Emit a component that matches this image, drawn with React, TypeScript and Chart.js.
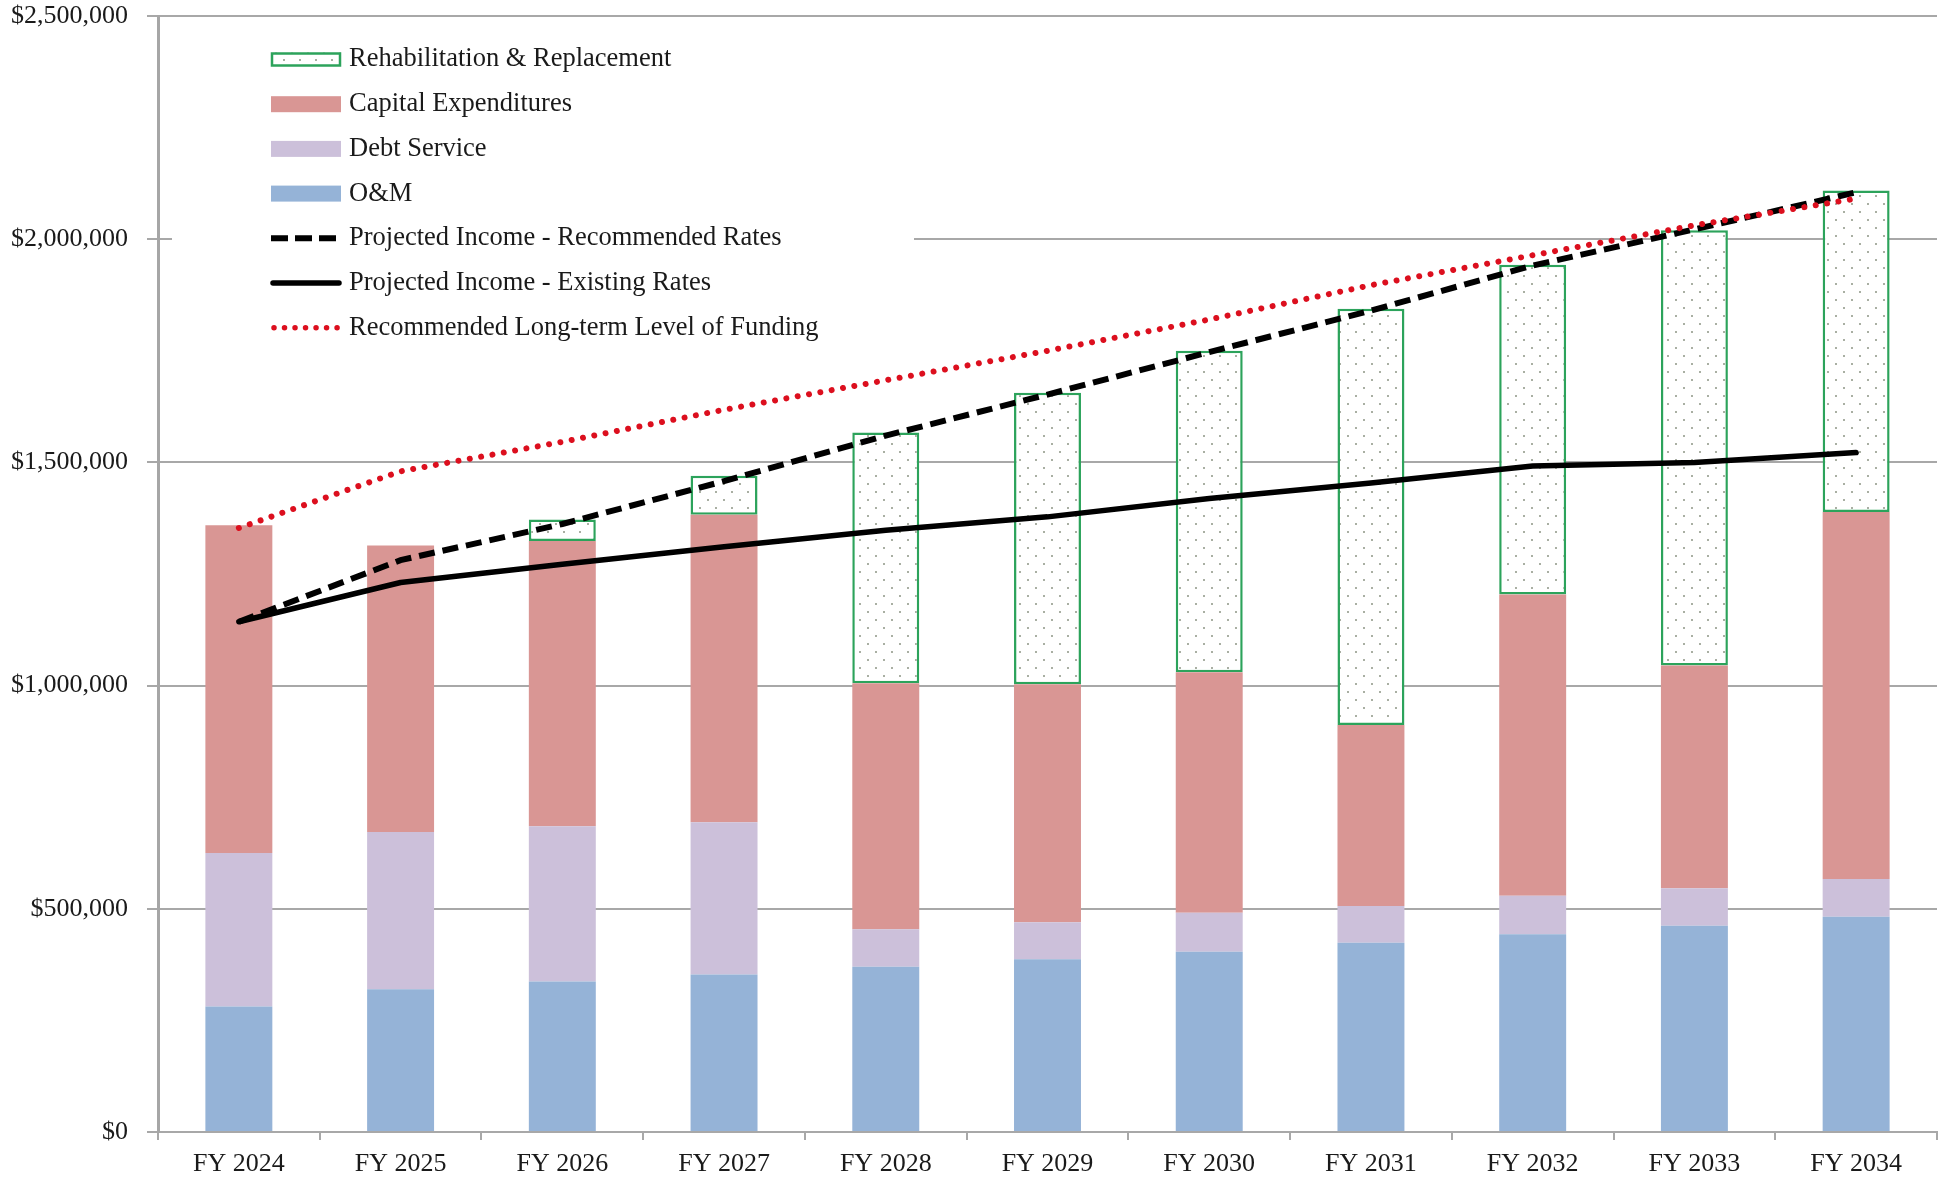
import React, { useEffect, useRef } from "react";
import { Chart, registerables } from "chart.js";

Chart.register(...registerables);

const categories = ["FY 2024", "FY 2025", "FY 2026", "FY 2027", "FY 2028", "FY 2029", "FY 2030", "FY 2031", "FY 2032", "FY 2033", "FY 2034"];

const omValues = [281000, 320000, 337000, 353000, 370000, 387000, 404000, 424000, 443000, 462000, 482000];
const debtServiceValues = [344000, 352000, 348000, 341000, 84000, 83000, 87000, 82000, 86000, 84000, 85000];
const capitalValues = [734000, 642000, 639000, 689000, 551000, 533000, 539000, 406000, 675000, 499000, 822000];
const rehabValues = [null, null, 48000, 87000, 562000, 653000, 720000, 932000, 739000, 975000, 720000];

const incomeRecommended = [1143000, 1281000, 1362000, 1458000, 1560000, 1652000, 1747000, 1840000, 1941000, 2022000, 2105000];
const incomeExisting = [1143000, 1231000, 1272000, 1311000, 1348000, 1378000, 1419000, 1454000, 1492000, 1500000, 1522000];
const longTermFunding = [1353000, 1480000, 1546000, 1618000, 1684000, 1750000, 1820000, 1897000, 1964000, 2031000, 2091000];

const yTicks = [0, 500000, 1000000, 1500000, 2000000, 2500000];

const FONT = "'Liberation Serif', 'Times New Roman', serif";
const TEXT = "#1a1a1a";
const GRID = "#A8A8A8";
const C_OM = "#95B3D7";
const C_DEBT = "#CCC0DA";
const C_CAP = "#D99694";
const C_RR_BORDER = "#2CA35B";
const C_RED = "#DC0F1E";

function makePattern(): CanvasPattern | string {
  const tile = document.createElement("canvas");
  tile.width = 16;
  tile.height = 16;
  const t = tile.getContext("2d");
  if (!t) return "#ffffff";
  t.fillStyle = "#ffffff";
  t.fillRect(0, 0, 16, 16);
  t.fillStyle = "#A9AFA3";
  t.fillRect(3, 3, 2, 2);
  t.fillRect(11, 11, 2, 2);
  const p = t.createPattern(tile, "repeat");
  return p || "#ffffff";
}

export default function App() {
  const canvasRef = useRef<HTMLCanvasElement | null>(null);

  useEffect(() => {
    const canvas = canvasRef.current;
    if (!canvas) return;
    const pattern = makePattern();

    const legendItems = [
      { label: "Rehabilitation & Replacement", kind: "rr" },
      { label: "Capital Expenditures", kind: "box", color: C_CAP },
      { label: "Debt Service", kind: "box", color: C_DEBT },
      { label: "O&M", kind: "box", color: C_OM },
      { label: "Projected Income - Recommended Rates", kind: "dash" },
      { label: "Projected Income - Existing Rates", kind: "solid" },
      { label: "Recommended Long-term Level of Funding", kind: "dot" },
    ];

    const legendPlugin = {
      id: "customLegend",
      beforeDatasetsDraw(chart: any) {
        const ctx = chart.ctx as CanvasRenderingContext2D;
        ctx.save();
        ctx.fillStyle = "#ffffff";
        ctx.fillRect(172, 30, 742, 315);
        const x0 = 271;
        const x1 = 341;
        legendItems.forEach((it, i) => {
          const cy = 59.5 + i * 44.7;
          ctx.setLineDash([]);
          if (it.kind === "rr") {
            ctx.fillStyle = pattern as any;
            ctx.fillRect(x0, cy - 7, x1 - x0, 14);
            ctx.strokeStyle = C_RR_BORDER;
            ctx.lineWidth = 2.5;
            ctx.strokeRect(x0 + 1, cy - 6, x1 - x0 - 2, 12);
          } else if (it.kind === "box") {
            ctx.fillStyle = it.color as string;
            ctx.fillRect(x0, cy - 8, x1 - x0, 16);
          } else if (it.kind === "dash") {
            ctx.strokeStyle = "#000";
            ctx.lineWidth = 6;
            ctx.setLineDash([17, 7]);
            ctx.beginPath();
            ctx.moveTo(x0, cy);
            ctx.lineTo(x0 + 65, cy);
            ctx.stroke();
          } else if (it.kind === "solid") {
            ctx.strokeStyle = "#000";
            ctx.lineWidth = 5.5;
            ctx.lineCap = "round";
            ctx.beginPath();
            ctx.moveTo(x0 + 2, cy);
            ctx.lineTo(x1 - 2, cy);
            ctx.stroke();
            ctx.lineCap = "butt";
          } else if (it.kind === "dot") {
            ctx.strokeStyle = C_RED;
            ctx.lineWidth = 5.5;
            ctx.lineCap = "round";
            ctx.setLineDash([0.01, 10.5]);
            ctx.beginPath();
            ctx.moveTo(x0 + 3, cy);
            ctx.lineTo(x0 + 67, cy);
            ctx.stroke();
            ctx.lineCap = "butt";
            ctx.setLineDash([]);
          }
          ctx.fillStyle = TEXT;
          ctx.font = `26.5px ${FONT}`;
          ctx.textBaseline = "middle";
          ctx.textAlign = "left";
          ctx.fillText(it.label, 349, cy);
        });
        ctx.restore();
      },
    };

    const chart = new Chart(canvas, {
      type: "bar",
      data: {
        labels: categories,
        datasets: [
          {
            type: "line",
            label: "Recommended Long-term Level of Funding",
            data: longTermFunding,
            borderColor: C_RED,
            borderWidth: 6,
            borderDash: [0.01, 11.5],
            borderCapStyle: "round",
            pointRadius: 0,
            tension: 0,
            fill: false,
            order: 0,
            stack: "l3",
          } as any,
          {
            type: "line",
            label: "Projected Income - Recommended Rates",
            data: incomeRecommended,
            borderColor: "#000000",
            borderWidth: 6,
            borderDash: [16, 8],
            pointRadius: 0,
            tension: 0,
            fill: false,
            order: 1,
            stack: "l1",
          } as any,
          {
            type: "line",
            label: "Projected Income - Existing Rates",
            data: incomeExisting,
            borderColor: "#000000",
            borderWidth: 5.5,
            borderCapStyle: "round",
            borderJoinStyle: "round",
            pointRadius: 0,
            tension: 0,
            fill: false,
            order: 2,
            stack: "l2",
          } as any,
          {
            label: "O&M",
            data: omValues,
            backgroundColor: C_OM,
            borderWidth: 0,
            stack: "bars",
            order: 10,
          },
          {
            label: "Debt Service",
            data: debtServiceValues,
            backgroundColor: C_DEBT,
            borderWidth: 0,
            stack: "bars",
            order: 10,
          },
          {
            label: "Capital Expenditures",
            data: capitalValues,
            backgroundColor: C_CAP,
            borderWidth: 0,
            stack: "bars",
            order: 10,
          },
          {
            label: "Rehabilitation & Replacement",
            data: rehabValues as any,
            backgroundColor: pattern as any,
            borderColor: C_RR_BORDER,
            borderWidth: 2.5,
            borderSkipped: false,
            stack: "bars",
            order: 10,
          },
        ],
      },
      options: {
        animation: false,
        responsive: false,
        devicePixelRatio: 1,
        layout: { padding: { top: 16, right: 13, bottom: 0, left: 0 } },
        datasets: {
          bar: { categoryPercentage: 1, barPercentage: 0.414 },
        },
        plugins: {
          legend: { display: false },
          tooltip: { enabled: false },
          title: { display: false },
        },
        scales: {
          x: {
            stacked: true,
            offset: true,
            grid: {
              display: true,
              drawOnChartArea: false,
              offset: true,
              color: GRID,
              lineWidth: 2,
              tickLength: 8,
            },
            border: { display: true, color: GRID, width: 2 },
            ticks: {
              color: TEXT,
              font: { family: FONT, size: 26 },
              padding: 9,
              maxRotation: 0,
              autoSkip: false,
            },
            afterFit: (scale: any) => {
              scale.height = 49;
            },
          },
          y: {
            stacked: true,
            min: 0,
            max: 2500000,
            afterBuildTicks: (scale: any) => {
              scale.ticks = yTicks.map((v) => ({ value: v }));
            },
            grid: {
              color: GRID,
              lineWidth: 2,
              tickLength: 11,
            },
            border: { display: true, color: "#A6A6A6", width: 3 },
            ticks: {
              color: TEXT,
              font: { family: FONT, size: 26, lineHeight: 1 },
              padding: 19,
              callback: (v: any) => "$" + Number(v).toLocaleString("en-US"),
            },
            afterFit: (scale: any) => {
              scale.width = 158;
              scale.paddingTop = 0;
              scale.paddingBottom = 0;
            },
          },
        },
      },
      plugins: [legendPlugin],
    } as any);

    return () => {
      chart.destroy();
    };
  }, []);

  return (
    <div style={{ position: "fixed", left: 0, top: 0, width: 1950, height: 1181, background: "#ffffff" }}>
      <canvas ref={canvasRef} width={1950} height={1181} style={{ display: "block", width: 1950, height: 1181 }} />
    </div>
  );
}
